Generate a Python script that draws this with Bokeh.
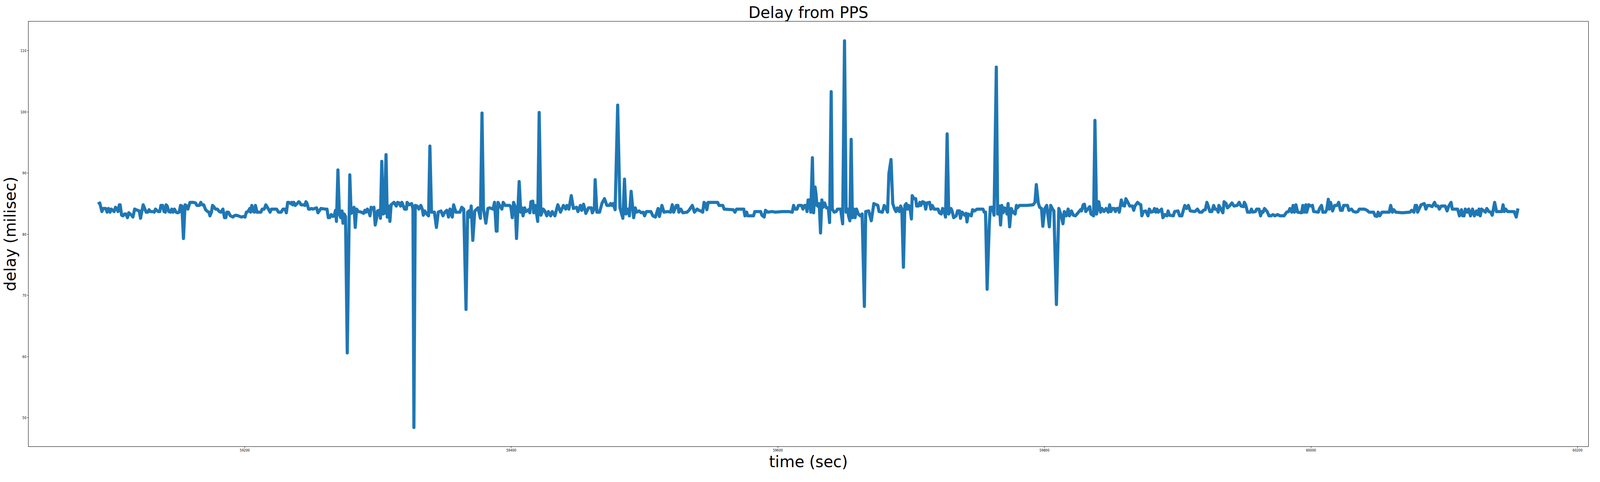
from bokeh.plotting import figure
from bokeh.models import Range1d
from bokeh.embed import file_html
from bokeh.resources import INLINE

# delay of each reading against the PPS edge
time_sec = [
    59089.9, 59091.2, 59092.8, 59093.8, 59095.7, 59096.7, 59097.7, 59098.9, 59099.8, 59102.0,
    59103.0, 59104.2, 59104.9, 59105.9, 59106.5, 59107.6, 59108.6, 59109.8, 59110.8, 59112.0,
    59113.0, 59114.0, 59115.0, 59116.1, 59117.4, 59118.4, 59120.8, 59121.8, 59122.8, 59123.8,
    59124.7, 59126.0, 59127.2, 59128.2, 59129.1, 59131.1, 59132.1, 59133.0, 59135.0, 59136.2,
    59137.1, 59138.4, 59139.4, 59140.4, 59141.0, 59141.8, 59143.0, 59144.3, 59145.2, 59146.2,
    59147.2, 59148.5, 59149.6, 59150.8, 59151.8, 59152.8, 59154.0, 59155.2, 59156.0, 59157.3,
    59158.9, 59161.4, 59163.1, 59164.1, 59166.0, 59167.0, 59168.0, 59169.2, 59170.6, 59172.1,
    59173.1, 59173.9, 59175.0, 59175.8, 59176.8, 59178.0, 59179.4, 59180.9, 59182.1, 59183.6,
    59184.8, 59185.8, 59186.6, 59187.7, 59189.2, 59191.1, 59192.1, 59193.4, 59195.0, 59197.5,
    59199.4, 59200.2, 59201.2, 59202.4, 59203.8, 59204.5, 59205.3, 59206.3, 59207.2, 59208.0,
    59209.2, 59212.1, 59213.1, 59214.6, 59215.8, 59217.5, 59219.0, 59220.0, 59223.9, 59225.3,
    59227.3, 59228.7, 59230.2, 59231.2, 59232.2, 59233.2, 59234.4,
    59235.2, 59235.9, 59236.8, 59237.8, 59239.3, 59240.5, 59241.2, 59242.2, 59244.2, 59245.1,
    59245.9, 59246.6, 59247.9, 59249.0, 59250.0, 59251.0, 59253.9, 59254.9, 59255.9, 59257.1,
    59260.3, 59261.7, 59262.7, 59263.7, 59264.9, 59266.1, 59267.1, 59268.1, 59268.8, 59269.9,
    59271.0, 59272.0, 59273.0, 59273.7, 59274.6, 59275.6, 59276.9, 59278.8, 59279.8, 59280.8,
    59282.0, 59282.9, 59283.9, 59285.2, 59287.6, 59289.1, 59290.1, 59291.0, 59292.0, 59293.0,
    59294.0, 59294.8, 59295.4, 59296.9, 59297.9, 59298.9, 59299.6, 59300.8, 59301.8, 59302.8,
    59303.7, 59304.7, 59306.0, 59306.9, 59307.8, 59308.9, 59309.8, 59312.0, 59313.7, 59314.7,
    59315.9, 59316.9, 59317.9, 59319.9, 59321.3, 59321.8, 59323.3, 59325.2, 59326.2, 59326.9,
    59327.9, 59329.3, 59330.6, 59332.1, 59333.2, 59334.0, 59335.0, 59336.5, 59337.9, 59338.9,
    59340.1, 59342.3, 59343.8, 59345.2, 59347.2, 59348.7, 59350.1, 59351.6, 59352.9, 59354.0,
    59355.7, 59356.7, 59358.4, 59361.4, 59362.8, 59364.3, 59366.0, 59367.2, 59368.2, 59369.0,
    59369.9, 59371.1, 59372.6, 59375.0, 59376.8, 59378.0, 59379.1, 59380.9, 59382.4, 59383.8,
    59386.3, 59387.4,
    59388.7, 59389.3, 59390.0, 59391.4, 59392.9, 59393.9, 59395.4, 59398.8, 59399.7, 59400.7,
    59401.7, 59403.0, 59403.9, 59405.9, 59407.1, 59408.0, 59408.8, 59410.0, 59411.0, 59412.9,
    59413.9, 59414.7, 59416.1, 59416.8, 59418.0, 59419.8, 59420.9, 59422.2, 59423.9, 59425.1,
    59426.6, 59427.8, 59429.5, 59430.7, 59432.7, 59434.9, 59436.9, 59439.1, 59440.8, 59441.7,
    59443.2, 59445.0, 59446.6, 59448.9, 59450.0, 59451.8, 59452.8, 59454.2, 59455.9, 59457.9,
    59460.0, 59460.8, 59462.3, 59462.9, 59464.2, 59466.2, 59468.1, 59469.9, 59471.7, 59473.5,
    59474.5, 59475.4, 59476.4, 59477.9, 59479.8, 59481.5, 59483.7, 59484.9, 59486.0, 59487.6,
    59488.6, 59489.9, 59491.8, 59493.0, 59494.0, 59495.9, 59497.4, 59498.9, 59500.0, 59501.3,
    59504.7, 59506.2, 59508.1, 59510.1, 59511.1, 59513.0, 59514.5, 59517.4, 59519.4, 59520.8,
    59521.8, 59523.8, 59525.0, 59525.7, 59527.2, 59528.7, 59531.9, 59533.3, 59535.8, 59537.4,
    59539.4, 59540.7,
    59542.1, 59543.6, 59544.6, 59545.6, 59546.7, 59547.7, 59554.8, 59555.8, 59558.7, 59559.7,
    59566.5, 59567.8, 59569.0, 59574.4, 59575.3, 59576.6, 59577.3, 59581.7, 59582.7, 59587.1,
    59588.0, 59589.7, 59590.7, 59592.4, 59595.8, 59597.8, 59603.2, 59608.1, 59610.8, 59611.8,
    59612.9, 59614.4, 59615.4, 59617.8, 59618.8, 59620.0, 59621.0, 59621.9, 59622.7, 59623.7,
    59624.7, 59625.9, 59626.8, 59627.9, 59628.6, 59629.3, 59630.5, 59631.0, 59632.0, 59633.0,
    59633.9, 59635.1, 59636.4, 59637.8, 59638.8, 59640.0, 59640.8, 59642.2, 59643.7, 59644.7,
    59647.1, 59648.6, 59650.0, 59651.2, 59652.5, 59653.0, 59654.0, 59655.0, 59655.9, 59657.1,
    59657.9, 59659.0, 59660.3, 59661.8, 59663.2, 59664.9, 59665.9, 59668.1, 59670.1, 59672.0,
    59675.0, 59675.9, 59678.4, 59679.8, 59681.3, 59682.3, 59683.3, 59684.9, 59686.2, 59687.6,
    59688.6, 59689.6, 59691.1, 59692.1, 59693.0, 59694.2,
    59695.3, 59696.3, 59697.2, 59698.2, 59699.2, 59700.2, 59700.8, 59702.1, 59703.4, 59704.1,
    59705.5, 59706.5, 59707.3, 59708.5, 59709.9, 59710.9, 59711.9, 59713.8, 59714.8, 59715.8,
    59717.2, 59720.2, 59721.2, 59722.6, 59723.6, 59724.9, 59725.8, 59727.0, 59728.2, 59729.9,
    59730.7, 59731.9, 59733.8, 59734.8, 59736.3, 59737.0, 59738.2, 59740.2, 59741.2, 59741.9,
    59742.8, 59745.1, 59746.1, 59747.5, 59749.5, 59753.9, 59754.8, 59755.8, 59757.0, 59758.6,
    59759.4, 59761.0, 59762.2, 59763.9, 59764.9, 59766.3, 59767.1, 59768.0, 59769.0, 59770.0,
    59771.0, 59771.9, 59772.7, 59773.9, 59775.1, 59776.3, 59778.0, 59779.0, 59779.7, 59781.2,
    59786.6, 59791.5, 59792.9, 59793.9, 59795.4, 59796.4, 59797.8, 59798.8, 59800.3, 59801.7,
    59803.7, 59804.7, 59806.1, 59807.1, 59809.0, 59810.8, 59812.5, 59813.9, 59814.9, 59816.4,
    59817.8, 59818.8, 59820.3, 59821.7, 59823.2, 59825.2, 59827.1, 59827.8, 59829.1, 59830.0,
    59831.0, 59832.5, 59834.0, 59834.9, 59836.9, 59837.9, 59839.1, 59840.8, 59842.1, 59843.2,
    59844.7, 59846.2,
    59847.9, 59848.9, 59849.9, 59851.0, 59852.3, 59853.3, 59854.3, 59855.5, 59856.2, 59857.7,
    59858.7, 59860.1, 59861.1, 59862.6, 59864.0, 59866.0, 59867.0, 59867.9, 59869.9, 59871.4,
    59872.3, 59873.1, 59874.3, 59876.0, 59877.7, 59878.7, 59880.1, 59881.6, 59882.6, 59883.6,
    59884.5, 59885.5, 59887.9, 59888.9, 59890.4, 59891.9, 59892.8, 59893.8, 59896.7, 59897.7,
    59900.2, 59901.4, 59903.1, 59904.1, 59905.3, 59906.7, 59908.0, 59909.4, 59912.9, 59914.8,
    59916.3, 59918.2, 59919.2, 59920.7, 59921.9, 59922.9, 59924.1, 59925.6, 59927.0, 59928.0,
    59929.5, 59930.4, 59930.9, 59932.4, 59933.9, 59934.8, 59936.3, 59937.3, 59939.2, 59940.7,
    59942.2, 59944.6, 59946.1, 59947.5, 59949.3, 59950.0, 59951.0, 59952.4, 59954.4, 59955.3,
    59956.3, 59958.3, 59959.2, 59961.0, 59962.2, 59963.2, 59964.1, 59965.1, 59967.1, 59968.5,
    59970.0, 59971.5, 59972.9, 59974.9, 59976.8, 59979.8, 59981.7, 59983.2, 59984.2, 59985.6,
    59986.6, 59987.6, 59988.7, 59990.0, 59992.9, 59993.9, 59994.9, 59996.2, 59996.8, 59998.3,
    60000.1,
    60001.1, 60002.0, 60005.5, 60006.4, 60007.9, 60008.9, 60010.8, 60011.8, 60013.0, 60013.8,
    60014.7, 60016.2, 60017.7, 60019.6, 60020.8, 60022.1, 60023.5, 60024.5, 60027.4, 60028.4,
    60030.4, 60031.8, 60033.8, 60035.2, 60036.2, 60040.1, 60042.1, 60043.5, 60047.0, 60048.1,
    60049.4, 60050.4, 60051.6, 60053.3, 60058.7, 60059.8, 60061.1, 60062.1, 60063.6, 60068.4,
    60074.3, 60075.5, 60077.2, 60078.2, 60079.2, 60080.0, 60081.1, 60082.6, 60085.0, 60086.2,
    60087.5, 60088.9, 60090.9, 60092.7, 60093.8, 60095.3, 60096.3, 60097.7, 60100.7, 60102.1,
    60103.4, 60105.1, 60106.0, 60110.0, 60111.4, 60112.9, 60113.8, 60114.8, 60115.8, 60117.3,
    60118.3, 60119.7, 60121.2, 60122.6, 60124.1, 60125.1, 60126.1, 60127.0, 60128.0, 60130.9,
    60131.9, 60133.4, 60134.8, 60136.0, 60137.8, 60139.2, 60143.2, 60144.1, 60145.1, 60146.1,
    60147.5, 60152.4, 60154.0, 60155.3,
]

delay_ms = [
    84.9, 85.1, 83.7, 84.2, 84.2, 83.6, 84.2, 83.6, 84.1, 83.7,
    84.4, 84.1, 83.7, 84.8, 84.8, 83.1, 83.0, 83.3, 83.3, 82.7,
    83.5, 83.3, 83.1, 82.8, 84.1, 84.0, 83.8, 82.6, 83.8, 84.8,
    84.3, 83.6, 83.6, 84.0, 83.7, 83.7, 83.6, 84.1, 83.7, 83.7,
    84.7, 84.7, 83.7, 83.6, 84.8, 84.6, 83.7, 83.6, 84.1, 83.6,
    84.1, 83.6, 83.5, 83.6, 84.7, 84.6, 79.3, 84.8, 84.7, 84.1,
    85.2, 85.2, 85.1, 84.7, 84.7, 85.2, 84.8, 84.8, 84.0, 83.7,
    83.6, 83.0, 83.6, 84.7, 84.5, 84.1, 84.1, 83.7, 83.6, 84.1,
    82.7, 82.7, 83.6, 83.6, 83.0, 82.8, 83.0, 83.1, 83.0, 82.8,
    82.9, 82.8, 83.6, 83.7, 84.2, 83.6, 84.7, 83.8, 83.6, 84.7,
    83.6, 83.6, 84.1, 84.1, 84.8, 84.2, 83.6, 84.1, 84.1, 83.6,
    83.6, 84.1, 84.1, 83.5, 85.2, 85.2, 85.0,
    85.2, 84.8, 85.2, 84.7, 85.0, 85.3, 85.2, 84.8, 84.8, 84.7,
    85.3, 85.1, 84.1, 84.1, 84.2, 84.1, 84.3, 83.5, 83.8, 84.2,
    84.1, 84.1, 82.7, 82.7, 83.2, 82.9, 83.0, 83.9, 82.1, 90.5,
    83.3, 82.7, 83.8, 81.8, 83.3, 82.9, 60.6, 89.7, 83.4, 83.6,
    84.4, 81.1, 84.1, 83.7, 83.6, 83.4, 83.9, 83.6, 84.1, 83.7,
    83.0, 84.4, 84.1, 84.4, 81.5, 82.6, 83.8, 83.9, 82.6, 91.9,
    83.3, 83.4, 93.0, 82.8, 84.6, 82.1, 84.8, 85.2, 84.6, 85.2,
    85.1, 84.6, 85.2, 84.1, 84.1, 85.2, 84.8, 85.0, 84.1, 48.4,
    84.7, 84.6, 84.1, 84.7, 84.1, 83.1, 83.8, 83.3, 83.0, 94.4,
    83.6, 83.6, 81.1, 83.6, 83.8, 83.0, 83.6, 83.9, 82.8, 84.1,
    82.8, 84.8, 83.6, 83.6, 84.4, 84.1, 67.7, 83.6, 83.8, 82.8,
    84.6, 79.0, 83.8, 84.3, 82.6, 99.8, 84.1, 81.8, 84.2, 84.3,
    84.1, 85.2,
    80.5, 80.5, 85.2, 84.6, 84.1, 85.2, 84.7, 84.7, 84.4, 82.7,
    85.2, 84.4, 79.3, 88.6, 83.6, 84.3, 83.0, 84.3, 83.7, 84.0,
    83.5, 85.3, 85.4, 83.5, 84.7, 82.1, 99.9, 83.1, 84.1, 83.8,
    83.0, 83.7, 83.0, 83.7, 83.0, 84.8, 83.6, 84.7, 84.1, 84.7,
    84.1, 86.3, 84.2, 84.4, 83.7, 84.7, 83.9, 84.9, 83.4, 84.3,
    84.3, 83.5, 84.2, 88.9, 83.6, 83.6, 85.1, 85.8, 84.7, 84.7,
    85.0, 84.7, 85.0, 84.0, 101.1, 84.3, 82.6, 89.0, 83.3, 84.1,
    83.0, 87.0, 82.7, 84.3, 83.6, 83.8, 83.5, 83.6, 83.0, 83.7,
    83.7, 83.0, 82.8, 84.2, 82.9, 84.7, 83.6, 83.7, 83.6, 84.8,
    83.6, 84.7, 84.7, 83.6, 84.1, 83.5, 83.6, 83.9, 84.7, 83.6,
    84.1, 83.9,
    83.8, 83.6, 85.2, 85.0, 84.0, 85.2, 85.2, 84.7, 84.7, 84.1,
    84.0, 83.6, 84.1, 84.1, 83.0, 83.6, 83.0, 83.0, 83.7, 83.7,
    83.1, 82.8, 83.9, 83.6, 83.7, 83.6, 83.7, 83.7, 83.6, 84.7,
    84.1, 84.1, 84.7, 84.7, 84.1, 84.7, 84.7, 83.7, 85.6, 85.6,
    83.6, 92.5, 83.5, 87.7, 86.6, 84.7, 84.5, 85.0, 80.2, 85.6,
    84.4, 85.1, 84.3, 84.3, 81.9, 103.3, 84.1, 83.6, 83.7, 84.1,
    84.1, 81.7, 111.6, 83.6, 84.1, 83.0, 82.2, 95.5, 82.7, 84.1,
    82.7, 84.1, 83.3, 83.0, 83.3, 68.2, 83.7, 83.8, 82.2, 85.0,
    84.7, 83.7, 83.6, 84.7, 84.1, 83.6, 89.9, 92.2, 85.0, 84.1,
    83.7, 84.3, 83.7, 84.6, 84.1, 74.6,
    84.7, 85.0, 84.1, 84.7, 84.1, 82.5, 86.3, 85.8, 85.8, 84.6,
    84.6, 85.2, 84.7, 85.3, 85.2, 84.1, 85.1, 85.2, 84.1, 84.7,
    84.1, 84.1, 83.5, 83.3, 84.2, 83.6, 82.8, 96.4, 83.3, 84.2,
    83.8, 82.7, 83.0, 83.8, 83.8, 82.6, 83.6, 83.1, 83.4, 82.0,
    83.3, 83.0, 84.0, 83.8, 84.1, 84.1, 83.6, 83.6, 71.0, 81.5,
    84.4, 84.4, 83.1, 107.3, 83.3, 84.6, 81.5, 84.7, 83.5, 84.3,
    84.1, 83.3, 85.0, 81.2, 84.2, 83.6, 83.3, 84.7, 84.3, 84.7,
    84.7, 84.8, 85.2, 88.1, 85.1, 84.4, 84.2, 81.3, 84.2, 84.7,
    81.2, 84.7, 84.1, 83.8, 68.5, 84.2, 83.1, 81.7, 83.7, 83.0,
    84.1, 83.0, 83.8, 83.1, 83.0, 83.5, 84.0, 83.8, 84.8, 84.9,
    83.7, 84.1, 84.5, 83.3, 83.0, 98.6, 83.3, 85.3, 83.6, 84.2,
    83.7, 84.2,
    83.6, 84.8, 83.7, 84.2, 84.2, 83.7, 84.2, 84.2, 83.6, 85.6,
    84.7, 84.6, 85.8, 85.2, 84.6, 84.6, 83.9, 84.6, 85.2, 84.9,
    84.8, 83.0, 83.7, 83.8, 83.0, 84.1, 83.6, 83.7, 84.2, 83.6,
    84.1, 83.6, 84.1, 82.7, 83.2, 83.0, 83.8, 83.1, 83.0, 83.7,
    83.8, 83.0, 83.0, 83.8, 84.7, 84.2, 84.7, 83.8, 83.7, 84.1,
    83.6, 83.6, 83.9, 84.0, 85.2, 84.6, 83.7, 83.7, 84.7, 84.1,
    84.1, 83.6, 84.7, 84.1, 83.5, 85.3, 85.0, 84.3, 84.7, 85.1,
    84.6, 84.7, 85.2, 84.6, 84.5, 85.2, 84.8, 83.6, 83.6, 84.1,
    83.6, 83.7, 84.1, 84.1, 83.0, 83.7, 83.6, 84.2, 83.7, 83.0,
    83.0, 83.2, 83.0, 83.2, 83.0, 83.0, 83.6, 83.7, 84.2, 83.6,
    84.7, 83.6, 84.8, 83.6, 83.5, 84.7, 83.6, 84.8, 83.6, 84.8,
    84.6,
    84.7, 83.7, 83.6, 84.2, 84.7, 83.6, 83.6, 84.0, 85.7, 84.1,
    85.2, 83.8, 84.7, 84.7, 85.2, 83.9, 83.9, 84.7, 84.7, 83.9,
    84.1, 83.7, 83.6, 83.7, 84.1, 84.1, 83.9, 83.6, 83.6, 83.0,
    82.9, 83.6, 83.0, 83.6, 83.6, 84.7, 83.6, 84.0, 83.6, 83.5,
    83.6, 83.9, 83.6, 84.7, 84.7, 83.6, 84.1, 84.8, 85.0, 84.1,
    84.7, 84.7, 84.5, 85.2, 84.6, 84.6, 84.1, 84.6, 84.6, 83.8,
    84.6, 85.2, 84.1, 84.1, 83.0, 84.0, 83.0, 83.0, 84.1, 83.6,
    84.1, 83.0, 84.1, 83.0, 83.8, 83.2, 84.1, 83.0, 84.1, 83.6,
    84.2, 83.7, 83.6, 83.1, 85.2, 83.7, 83.7, 84.8, 83.7, 84.1,
    83.7, 83.7, 82.8, 84.2,
]

x_ticks = [59200, 59400, 59600, 59800, 60000, 60200]
y_ticks = [50, 60, 70, 80, 90, 100, 110]

# the page comes out about 4096 css px wide and 1233 high: fill both
p = figure(width=4070, height=1217,
           x_range=Range1d(59037.6, 60208.2), y_range=Range1d(45.27, 114.8),
           title="Delay from PPS",
           x_axis_label="time (sec)", y_axis_label="delay (milisec)",
           output_backend="svg", toolbar_location=None,
           min_border_left=60, min_border_right=4,
           min_border_top=54, min_border_bottom=75)

p.line(time_sec, delay_ms, line_width=8, color="#1f77b4", line_join="round")

p.title.align = "center"
p.title.text_font = "DejaVu Sans"
p.title.text_font_size = "40px"
p.title.text_font_style = "normal"
p.title.text_color = "black"
p.title.standoff = 0

p.xgrid.visible = False
p.ygrid.visible = False
p.outline_line_color = "black"
p.outline_line_width = 1
p.outline_line_alpha = 1

p.xaxis.ticker = x_ticks
p.yaxis.ticker = y_ticks
for ax in (p.xaxis, p.yaxis):
    ax.axis_line_color = "black"
    ax.major_tick_line_color = "black"
    ax.major_tick_out = 3
    ax.major_tick_in = 0
    ax.minor_tick_out = 0
    ax.minor_tick_in = 0
    ax.major_label_text_font = "DejaVu Sans"
    ax.major_label_text_font_size = "8px"
    ax.major_label_text_color = "black"
    ax.major_label_standoff = 2
    ax.axis_label_text_font = "DejaVu Sans"
    ax.axis_label_text_font_size = "40px"
    ax.axis_label_text_font_style = "normal"
    ax.axis_label_text_color = "black"
    ax.axis_label_text_line_height = 1.0
    ax.axis_label_standoff = 0

open("out.html", "w").write(file_html(p, INLINE))
